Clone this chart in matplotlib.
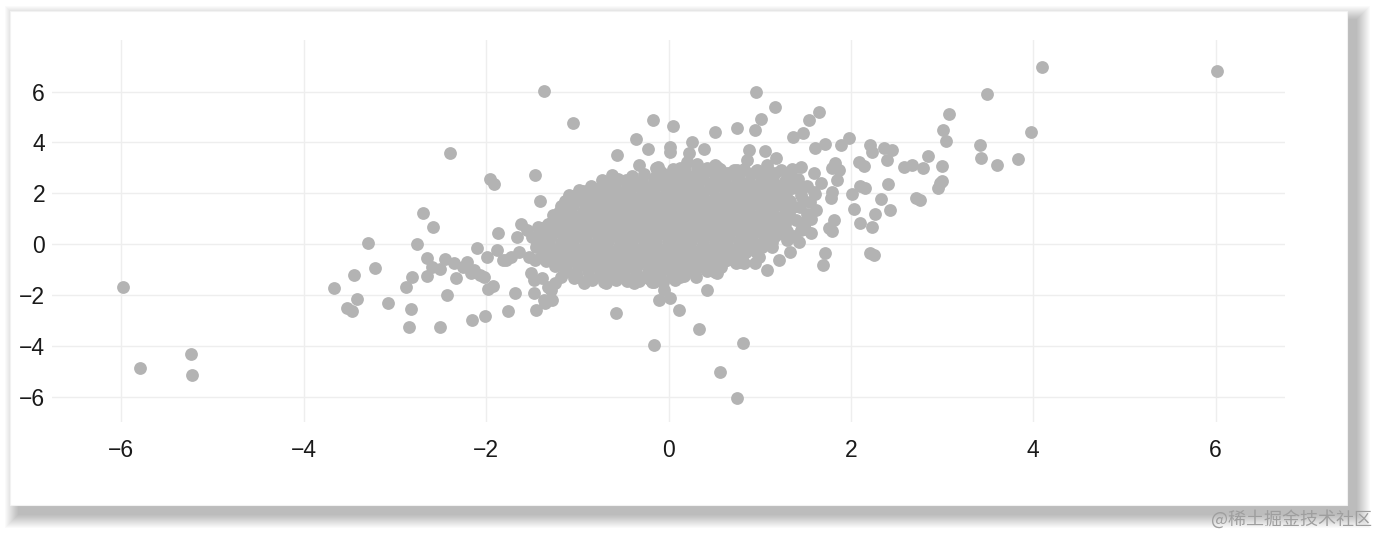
import matplotlib
matplotlib.use("Agg")
import matplotlib.pyplot as plt
from matplotlib.patches import Rectangle
import numpy as np

# points, grouped by region (x, y)
far_left = [(-5.98, -1.67), (-5.80, -4.89), (-5.24, -4.33), (-5.23, -5.15)]

left_wing = [
    (-3.67, -1.73), (-3.52, -2.50), (-3.47, -2.62), (-3.42, -2.16), (-3.45, -1.22),
    (-3.29, 0.04), (-3.22, -0.94), (-3.08, -2.30), (-2.88, -1.70), (-2.82, -2.54),
    (-2.84, -3.26), (-2.81, -1.29), (-2.76, 0.02), (-2.69, 1.22), (-2.58, 0.66),
    (-2.65, -0.56), (-2.65, -1.24), (-2.59, -0.89), (-2.51, -0.97), (-2.51, -3.26),
    (-2.43, -2.00), (-2.45, -0.59), (-2.35, -0.75), (-2.33, -1.34), (-2.40, 3.58),
    (-2.21, -0.72), (-2.25, -0.89), (-2.17, -1.14), (-2.13, -1.02), (-2.10, -0.16),
    (-2.07, -1.22), (-2.02, -1.29), (-1.99, -0.50), (-1.98, -1.75), (-1.92, -1.66),
    (-1.88, -0.24), (-1.87, 0.45), (-1.82, -0.62), (-1.78, -0.63), (-1.73, -0.50),
    (-1.68, -1.94), (-1.76, -2.65), (-2.01, -2.83), (-2.15, -2.97), (-1.96, 2.55),
    (-1.91, 2.36), (-1.46, 2.70), (-1.41, 1.71), (-1.62, 0.81), (-1.66, 0.29),
    (-1.55, 0.55), (-1.50, 0.29), (-1.43, 0.68), (-1.32, 0.81), (-1.27, 1.14),
    (-1.64, -0.30), (-1.53, -0.50), (-1.46, -0.63), (-1.35, -0.50), (-1.28, -0.37),
    (-1.51, -1.15), (-1.48, -1.94), (-1.45, -2.61), (-1.35, -2.33), (-1.28, -2.20),
    (-1.32, -1.68), (-1.39, -1.35), (-1.48, -1.42), (-1.37, -2.20), (-1.29, -1.81),
    (-1.24, -1.55), (-1.18, -1.29), (-1.04, -1.35), (-0.93, -1.55), (-0.69, -1.55),
    (-0.38, -1.55), (-0.18, -1.48),
]

top_scatter = [
    (-1.37, 6.02), (-1.05, 4.76), (-0.36, 4.14), (-0.56, 3.50), (-0.32, 3.11),
    (-0.23, 3.76), (-0.17, 4.90), (0.05, 4.64), (0.02, 3.83), (0.02, 3.63),
    (-0.12, 3.04), (0.22, 3.57), (0.26, 4.03), (0.39, 3.76), (0.51, 4.42),
    (0.75, 4.58), (0.53, 3.04), (0.72, 2.91), (0.96, 6.00), (1.17, 5.41),
    (1.01, 4.92), (0.95, 4.49), (1.54, 4.88), (1.65, 5.18), (1.37, 4.20),
    (1.47, 4.39), (1.06, 3.67), (1.18, 3.37), (0.88, 3.72), (1.61, 3.80),
    (1.72, 3.94), (1.89, 3.88), (1.98, 4.18), (1.45, 3.04), (1.23, 2.91),
    (1.32, 2.65),
    (-1.09, 1.93), (-0.98, 2.13), (-0.87, 2.13), (-0.73, 2.52), (-0.62, 2.72),
    (-0.47, 2.52), (-0.31, 2.39), (-0.20, 2.13), (-0.14, 2.98), (-0.09, 2.72),
    (0.02, 2.52), (0.13, 2.98), (0.20, 3.24), (0.31, 3.17), (0.42, 2.98),
    (0.51, 3.11), (0.64, 2.78), (0.75, 2.91), (0.86, 3.31), (0.97, 2.91),
    (1.08, 3.11), (1.17, 2.78), (-1.08, 0.84), (-0.93, 0.81),
]

bottom_scatter = [
    (-0.58, -2.70), (-0.16, -3.98), (-0.10, -2.20), (0.02, -2.14), (-0.05, -1.81),
    (0.11, -2.60), (0.33, -3.36), (0.82, -3.91), (0.56, -5.05), (0.75, -6.05),
    (0.42, -1.81), (0.50, -1.02), (0.53, -1.15), (0.30, -0.96), (0.35, -0.76),
    (0.61, -0.37), (0.64, -0.63), (0.83, -0.76), (1.08, -1.02), (0.97, -0.37),
    (1.12, 0.03), (0.13, -1.29), (0.06, -1.02), (-0.16, -1.48), (-0.60, -1.16),
    (-0.12, -1.16), (0.51, -1.10), (0.79, -0.70), (0.62, -0.43), (0.99, -0.50),
    (0.95, -0.76), (1.21, -0.63), (1.33, -0.30), (1.14, -0.10),
]

right_scatter = [
    (1.14, 1.20), (1.28, 0.81), (1.43, 0.09), (1.56, 1.00), (1.61, 1.99),
    (1.78, 1.80), (1.79, 0.52), (1.72, -0.37), (1.69, -0.83), (1.41, 2.26),
    (1.48, 1.73), (1.37, 1.47), (1.52, 1.20), (1.26, 1.86), (1.17, 2.26),
    (1.59, 2.78), (1.67, 2.39), (1.79, 2.06), (1.81, 0.95), (1.76, 0.62),
    (1.56, 0.42), (1.45, 0.55), (1.30, 0.16), (1.23, 0.42), (1.50, 0.61),
    (1.79, 2.98), (1.85, 2.52), (1.83, 3.18), (1.87, 2.91),
    (1.35, 2.95), (1.42, 2.55), (1.35, 2.20), (1.45, 1.95), (1.33, 1.70),
    (1.44, 1.45), (1.32, 1.20), (1.40, 0.95), (1.30, 0.50), (1.52, 2.30),
    (1.55, 1.65), (1.62, 1.35), (1.50, 0.85), (1.38, 0.30), (1.60, 2.05),
    (1.28, 2.50), (1.30, 1.00),
]

right_wing = [
    (2.01, 1.99), (2.03, 1.40), (2.10, 2.28), (2.15, 2.20), (2.09, 3.24),
    (2.14, 3.08), (2.21, 3.90), (2.23, 3.64), (2.36, 3.80), (2.45, 3.70),
    (2.40, 3.31), (2.41, 2.36), (2.33, 1.76), (2.43, 1.34), (2.26, 1.20),
    (2.10, 0.84), (2.23, 0.68), (2.21, -0.37), (2.25, -0.43), (2.58, 3.05),
    (2.67, 3.11), (2.79, 2.98), (2.84, 3.47), (3.00, 3.07), (2.98, 2.40),
    (2.96, 2.20), (3.00, 2.50), (2.76, 1.73), (2.71, 1.80), (3.01, 4.49),
    (3.04, 4.06), (3.08, 5.12), (3.42, 3.90), (3.43, 3.40), (3.60, 3.11),
    (3.83, 3.36), (3.97, 4.42), (3.49, 5.92), (4.09, 6.95), (6.01, 6.82),
]

# the solid middle of the cloud, read row by row
core = [
    (-0.08, 2.85), (0.05, 2.95), (0.18, 2.88), (0.31, 3.00), (0.44, 2.90), (0.57, 2.95),
    (0.70, 2.82), (0.83, 2.97), (0.96, 2.88), (1.09, 2.93),
    (-0.68, 2.45), (-0.55, 2.55), (-0.42, 2.48), (-0.29, 2.50), (-0.16, 2.55), (-0.03, 2.45),
    (0.10, 2.52), (0.23, 2.47), (0.36, 2.55), (0.49, 2.45), (0.62, 2.50), (0.75, 2.55),
    (0.88, 2.46), (1.01, 2.52), (1.14, 2.48),
    (-0.94, 2.08), (-0.81, 2.15), (-0.68, 2.10), (-0.55, 2.05), (-0.42, 2.12), (-0.29, 2.08),
    (-0.16, 2.15), (-0.03, 2.06), (0.10, 2.12), (0.23, 2.10), (0.36, 2.04), (0.49, 2.14),
    (0.62, 2.08), (0.75, 2.12), (0.88, 2.05), (1.01, 2.10), (1.14, 2.14), (1.27, 2.06),
    (-1.14, 1.68), (-1.01, 1.74), (-0.88, 1.66), (-0.75, 1.72), (-0.62, 1.70), (-0.49, 1.75),
    (-0.36, 1.65), (-0.23, 1.72), (-0.10, 1.68), (0.03, 1.74), (0.16, 1.67), (0.29, 1.71),
    (0.42, 1.66), (0.55, 1.74), (0.68, 1.69), (0.81, 1.72), (0.94, 1.66), (1.07, 1.73),
    (1.20, 1.68),
    (-1.20, 1.28), (-1.07, 1.32), (-0.94, 1.26), (-0.81, 1.34), (-0.68, 1.30), (-0.55, 1.25),
    (-0.42, 1.33), (-0.29, 1.28), (-0.16, 1.31), (-0.03, 1.27), (0.10, 1.34), (0.23, 1.29),
    (0.36, 1.26), (0.49, 1.32), (0.62, 1.30), (0.75, 1.27), (0.88, 1.34), (1.01, 1.28),
    (1.14, 1.31),
    (-1.28, 0.88), (-1.15, 0.93), (-1.02, 0.86), (-0.89, 0.92), (-0.76, 0.90), (-0.63, 0.85),
    (-0.50, 0.93), (-0.37, 0.88), (-0.24, 0.91), (-0.11, 0.87), (0.02, 0.94), (0.15, 0.89),
    (0.28, 0.86), (0.41, 0.92), (0.54, 0.90), (0.67, 0.87), (0.80, 0.94), (0.93, 0.88),
    (1.06, 0.91), (1.19, 0.86),
    (-1.38, 0.48), (-1.25, 0.53), (-1.12, 0.46), (-0.99, 0.52), (-0.86, 0.50), (-0.73, 0.45),
    (-0.60, 0.53), (-0.47, 0.48), (-0.34, 0.51), (-0.21, 0.47), (-0.08, 0.54), (0.05, 0.49),
    (0.18, 0.46), (0.31, 0.52), (0.44, 0.50), (0.57, 0.47), (0.70, 0.54), (0.83, 0.48),
    (0.96, 0.51), (1.09, 0.46), (1.20, 0.50),
    (-1.44, 0.08), (-1.31, 0.13), (-1.18, 0.06), (-1.05, 0.12), (-0.92, 0.10), (-0.79, 0.05),
    (-0.66, 0.13), (-0.53, 0.08), (-0.40, 0.11), (-0.27, 0.07), (-0.14, 0.14), (-0.01, 0.09),
    (0.12, 0.06), (0.25, 0.12), (0.38, 0.10), (0.51, 0.07), (0.64, 0.14), (0.77, 0.08),
    (0.90, 0.11), (1.03, 0.06), (1.14, 0.10),
    (-1.36, -0.32), (-1.23, -0.27), (-1.10, -0.34), (-0.97, -0.28), (-0.84, -0.30), (-0.71, -0.35),
    (-0.58, -0.27), (-0.45, -0.32), (-0.32, -0.29), (-0.19, -0.33), (-0.06, -0.26), (0.07, -0.31),
    (0.20, -0.34), (0.33, -0.28), (0.46, -0.30), (0.59, -0.33), (0.72, -0.26), (0.85, -0.32),
    (0.96, -0.29),
    (-1.34, -0.68), (-1.21, -0.73), (-1.08, -0.66), (-0.95, -0.72), (-0.82, -0.70), (-0.69, -0.65),
    (-0.56, -0.73), (-0.43, -0.68), (-0.30, -0.71), (-0.17, -0.67), (-0.04, -0.74), (0.09, -0.69),
    (0.22, -0.66), (0.35, -0.72), (0.48, -0.70), (0.61, -0.67), (0.74, -0.73),
    (-1.14, -1.08), (-1.01, -1.13), (-0.88, -1.06), (-0.75, -1.12), (-0.62, -1.10), (-0.49, -1.05),
    (-0.36, -1.13), (-0.23, -1.08), (-0.10, -1.11), (0.03, -1.07), (0.16, -1.14), (0.29, -1.09),
    (0.42, -1.06),
    (-0.84, -1.43), (-0.71, -1.48), (-0.58, -1.41), (-0.45, -1.47), (-0.32, -1.45), (-0.19, -1.40),
    (-0.06, -1.48), (0.07, -1.43),
]

# points sitting between the rows above
core_between = [
    (-0.40, 2.68), (-0.27, 2.74), (-0.14, 2.66), (-0.01, 2.72), (0.12, 2.70), (0.25, 2.65),
    (0.38, 2.73), (0.51, 2.68), (0.64, 2.71), (0.77, 2.66), (0.90, 2.74), (1.03, 2.69),
    (1.15, 2.67),
    (-0.85, 2.28), (-0.72, 2.33), (-0.59, 2.27), (-0.46, 2.31), (-0.33, 2.30), (-0.20, 2.25),
    (-0.07, 2.33), (0.06, 2.28), (0.19, 2.31), (0.32, 2.27), (0.45, 2.34), (0.58, 2.29),
    (0.71, 2.26), (0.84, 2.32), (0.97, 2.30), (1.10, 2.27), (1.23, 2.33),
    (-1.05, 1.88), (-0.92, 1.93), (-0.79, 1.87), (-0.66, 1.91), (-0.53, 1.90), (-0.40, 1.85),
    (-0.27, 1.93), (-0.14, 1.88), (-0.01, 1.91), (0.12, 1.87), (0.25, 1.94), (0.38, 1.89),
    (0.51, 1.86), (0.64, 1.92), (0.77, 1.90), (0.90, 1.87), (1.03, 1.93), (1.16, 1.88),
    (1.29, 1.91),
    (-1.18, 1.48), (-1.05, 1.53), (-0.92, 1.47), (-0.79, 1.51), (-0.66, 1.50), (-0.53, 1.45),
    (-0.40, 1.53), (-0.27, 1.48), (-0.14, 1.51), (-0.01, 1.47), (0.12, 1.54), (0.25, 1.49),
    (0.38, 1.46), (0.51, 1.52), (0.64, 1.50), (0.77, 1.47), (0.90, 1.53), (1.03, 1.48),
    (1.16, 1.51), (1.27, 1.47),
    (-1.25, 1.08), (-1.12, 1.13), (-0.99, 1.07), (-0.86, 1.11), (-0.73, 1.10), (-0.60, 1.05),
    (-0.47, 1.13), (-0.34, 1.08), (-0.21, 1.11), (-0.08, 1.07), (0.05, 1.14), (0.18, 1.09),
    (0.31, 1.06), (0.44, 1.12), (0.57, 1.10), (0.70, 1.07), (0.83, 1.13), (0.96, 1.08),
    (1.09, 1.11), (1.22, 1.07),
    (-1.35, 0.68), (-1.22, 0.73), (-1.09, 0.67), (-0.96, 0.71), (-0.83, 0.70), (-0.70, 0.65),
    (-0.57, 0.73), (-0.44, 0.68), (-0.31, 0.71), (-0.18, 0.67), (-0.05, 0.74), (0.08, 0.69),
    (0.21, 0.66), (0.34, 0.72), (0.47, 0.70), (0.60, 0.67), (0.73, 0.73), (0.86, 0.68),
    (0.99, 0.71), (1.12, 0.67),
    (-1.42, 0.28), (-1.29, 0.33), (-1.16, 0.27), (-1.03, 0.31), (-0.90, 0.30), (-0.77, 0.25),
    (-0.64, 0.33), (-0.51, 0.28), (-0.38, 0.31), (-0.25, 0.27), (-0.12, 0.34), (0.01, 0.29),
    (0.14, 0.26), (0.27, 0.32), (0.40, 0.30), (0.53, 0.27), (0.66, 0.33), (0.79, 0.28),
    (0.92, 0.31), (1.05, 0.27), (1.17, 0.30),
    (-1.45, -0.12), (-1.32, -0.07), (-1.19, -0.13), (-1.06, -0.09), (-0.93, -0.10), (-0.80, -0.15),
    (-0.67, -0.07), (-0.54, -0.12), (-0.41, -0.09), (-0.28, -0.13), (-0.15, -0.06), (-0.02, -0.11),
    (0.11, -0.14), (0.24, -0.08), (0.37, -0.10), (0.50, -0.13), (0.63, -0.07), (0.76, -0.12),
    (0.89, -0.09), (1.02, -0.13),
    (-1.40, -0.52), (-1.27, -0.47), (-1.14, -0.53), (-1.01, -0.49), (-0.88, -0.50), (-0.75, -0.55),
    (-0.62, -0.47), (-0.49, -0.52), (-0.36, -0.49), (-0.23, -0.53), (-0.10, -0.46), (0.03, -0.51),
    (0.16, -0.54), (0.29, -0.48), (0.42, -0.50), (0.55, -0.53), (0.68, -0.47), (0.81, -0.52),
    (-1.25, -0.88), (-1.12, -0.93), (-0.99, -0.87), (-0.86, -0.91), (-0.73, -0.90), (-0.60, -0.85),
    (-0.47, -0.93), (-0.34, -0.88), (-0.21, -0.91), (-0.08, -0.87), (0.05, -0.94), (0.18, -0.89),
    (0.31, -0.86), (0.44, -0.92), (0.58, -0.90),
    (-1.00, -1.28), (-0.87, -1.31), (-0.74, -1.26), (-0.61, -1.30), (-0.48, -1.29), (-0.35, -1.25),
    (-0.22, -1.32), (-0.09, -1.27), (0.04, -1.30), (0.17, -1.26), (0.30, -1.29),
]

x_ticks = [-6, -4, -2, 0, 2, 4, 6]
y_ticks = [-6, -4, -2, 0, 2, 4, 6]
watermark = "@稀土掘金技术社区"

pts = np.array(far_left + left_wing + top_scatter + bottom_scatter
               + right_scatter + right_wing + core + core_between)
x, y = pts[:, 0], pts[:, 1]

W, H = 1379, 534
fig = plt.figure(figsize=(W / 100, H / 100), dpi=100)
fig.patch.set_facecolor("white")


def px_rect(x0, y0, x1, y1, **kw):
    # rectangle given in pixels from the top-left corner
    return Rectangle((x0 / W, 1 - y1 / H), (x1 - x0) / W, (y1 - y0) / H,
                     transform=fig.transFigure, **kw)


# card with a soft drop shadow (mostly right and below)
for k in range(1, 15):
    fig.add_artist(px_rect(19 - k, 20 - k, 1356 + k, 514 + k,
                           fc="black", ec="none", alpha=0.02, zorder=-3))
fig.add_artist(px_rect(10, 11, 1347, 505, fc="white", ec="#f2f2f2", lw=0.8, zorder=-2))

ax = fig.add_axes([52 / W, 1 - 422 / H, (1285 - 52) / W, (422 - 40) / H])
ax.set_facecolor("none")
ax.scatter(x, y, s=85, c="#b3b3b3", linewidths=0, zorder=2)

ax.set_xlim(-6.76, 6.76)
ax.set_ylim(-7.0, 8.03)
ax.set_xticks(x_ticks)
ax.set_yticks(y_ticks)
ax.grid(True, color="#eeeeee", lw=1)
ax.set_axisbelow(True)
for s in ax.spines.values():
    s.set_visible(False)
ax.tick_params(length=0, labelsize=16.5, colors="#1a1a1a")
ax.tick_params(axis="x", pad=12)
ax.tick_params(axis="y", pad=5)
for lab in ax.get_xticklabels() + ax.get_yticklabels():
    lab.set_family("Liberation Sans")

fig.text(1372 / W, 1 - 519 / H, watermark, ha="right", va="center", fontsize=13,
         color="#9e9e9e", family=["Noto Sans CJK SC", "DejaVu Sans"])

fig.savefig("out.png", dpi=100)
